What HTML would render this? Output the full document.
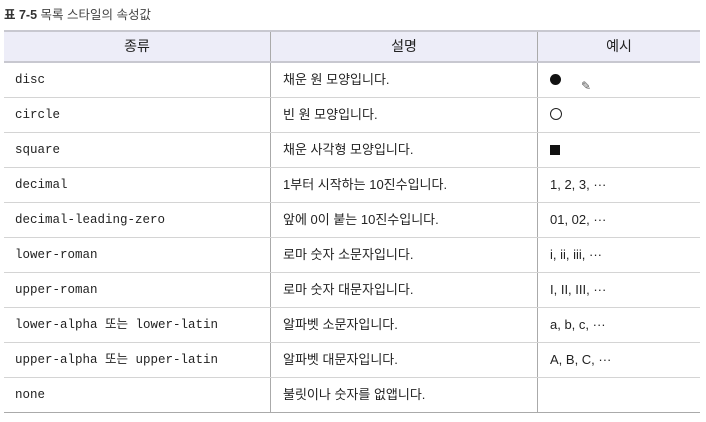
<!DOCTYPE html>
<html><head><meta charset="utf-8"><style>
body{margin:0;width:706px;height:422px;background:#fff;position:relative;overflow:hidden;font-family:"Liberation Sans","Noto Sans CJK KR",sans-serif;color:#222}
.cap{position:absolute;left:4px;top:4px;font-size:12.5px;color:#444}
.cap b{color:#333}
.row{position:absolute;left:4px;width:696px;height:35px;box-sizing:border-box;border-bottom:1.5px solid #d4d4d4}
.row div{position:absolute;top:0;height:100%;display:block;line-height:34px;box-sizing:border-box;font-size:13px;white-space:nowrap}
.c1{left:0;width:266px;padding-left:11px;font-family:"Liberation Mono","Noto Sans CJK KR",monospace;font-size:12.5px!important}
.c2{left:266px;width:267px;padding-left:12px;border-left:1px solid #aaa}
.c3{left:533px;width:163px;padding-left:12px;border-left:1px solid #aaa}
.hd{top:30px;height:33px;background:#ededf8;border-top:2px solid #c8c8d0;border-bottom:2px solid #c8c8d0}
.hd div{text-align:center;padding:0;line-height:29px;font-family:"Liberation Sans","Noto Sans CJK KR",sans-serif;font-size:14px!important}
.dot{display:inline-block;width:11px;height:11px;border-radius:50%;background:#111;vertical-align:-1px}
.ring{display:inline-block;width:10px;height:10px;border-radius:50%;border:1px solid #222;vertical-align:-1px}
.sq{display:inline-block;width:10px;height:10px;background:#111;vertical-align:-1px}
</style></head><body>
<div class="cap"><b>표 7-5</b> 목록 스타일의 속성값</div>
<div class="row hd"><div class="c1">종류</div><div class="c2">설명</div><div class="c3">예시</div></div>
<div class="row" style="top:63px"><div class="c1">disc</div><div class="c2">채운 원 모양입니다.</div><div class="c3"><span class="dot"></span><span style="margin-left:20px;position:relative;top:6px;font-size:12px;color:#555">✎</span></div></div>
<div class="row" style="top:98px"><div class="c1">circle</div><div class="c2">빈 원 모양입니다.</div><div class="c3"><span class="ring"></span></div></div>
<div class="row" style="top:133px"><div class="c1">square</div><div class="c2">채운 사각형 모양입니다.</div><div class="c3"><span class="sq"></span></div></div>
<div class="row" style="top:168px"><div class="c1">decimal</div><div class="c2">1부터 시작하는 10진수입니다.</div><div class="c3">1, 2, 3, ···</div></div>
<div class="row" style="top:203px"><div class="c1">decimal-leading-zero</div><div class="c2">앞에 0이 붙는 10진수입니다.</div><div class="c3">01, 02, ···</div></div>
<div class="row" style="top:238px"><div class="c1">lower-roman</div><div class="c2">로마 숫자 소문자입니다.</div><div class="c3">i, ii, iii, ···</div></div>
<div class="row" style="top:273px"><div class="c1">upper-roman</div><div class="c2">로마 숫자 대문자입니다.</div><div class="c3">I, II, III, ···</div></div>
<div class="row" style="top:308px"><div class="c1">lower-alpha 또는 lower-latin</div><div class="c2">알파벳 소문자입니다.</div><div class="c3">a, b, c, ···</div></div>
<div class="row" style="top:343px"><div class="c1">upper-alpha 또는 upper-latin</div><div class="c2">알파벳 대문자입니다.</div><div class="c3">A, B, C, ···</div></div>
<div class="row" style="top:378px;border-bottom-color:#aaa"><div class="c1">none</div><div class="c2">불릿이나 숫자를 없앱니다.</div><div class="c3"></div></div>
</body></html>
